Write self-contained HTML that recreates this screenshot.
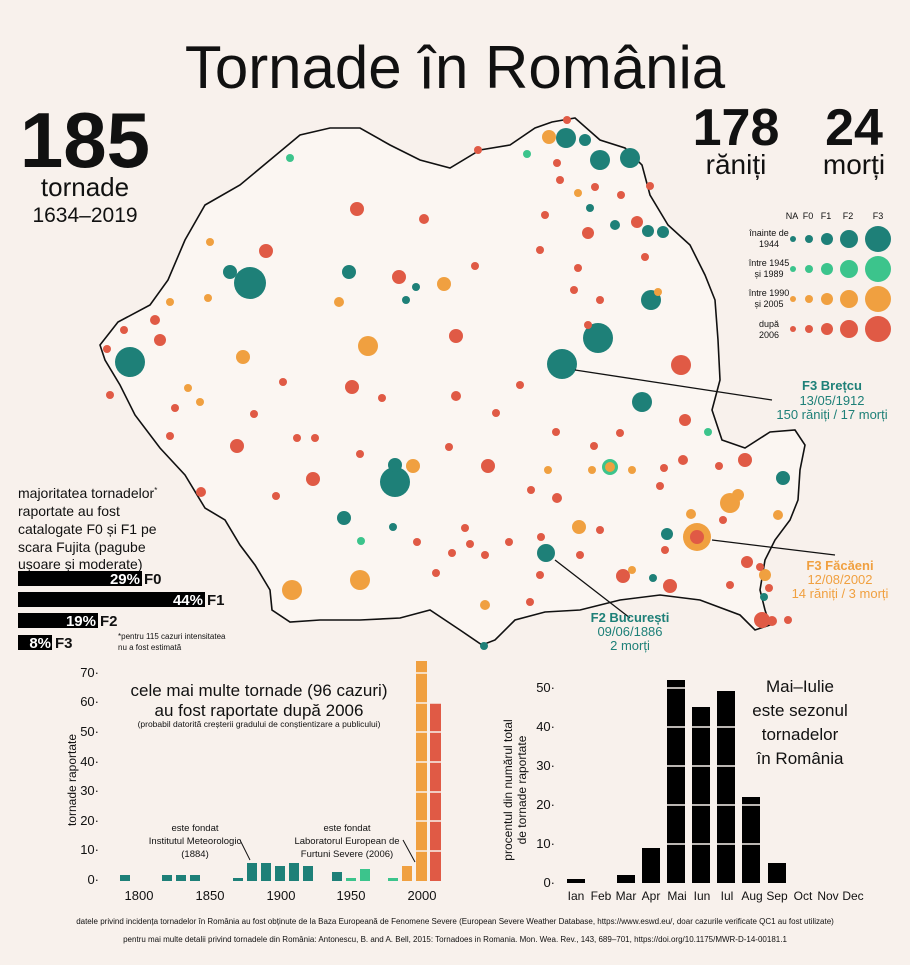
<!DOCTYPE html>
<html><head><meta charset="utf-8"><style>
html,body{margin:0;padding:0;background:#f8f1ec;}
body{width:910px;height:960px;overflow:hidden;font-family:"Liberation Sans",sans-serif;}
svg text{font-family:"Liberation Sans",sans-serif;}
</style></head><body>
<svg width="910" height="960" viewBox="0 0 910 960" xmlns="http://www.w3.org/2000/svg">
<rect width="910" height="960" fill="#f8f1ec"/>
<text x="455" y="88" font-size="60" text-anchor="middle" fill="#111">Tornade în România</text>
<text x="85" y="167" font-size="78" font-weight="bold" text-anchor="middle" fill="#111">185</text>
<text x="85" y="196" font-size="26" text-anchor="middle" fill="#111">tornade</text>
<text x="85" y="222" font-size="21" text-anchor="middle" fill="#111">1634–2019</text>
<text x="736" y="145" font-size="52" font-weight="bold" text-anchor="middle" fill="#111">178</text>
<text x="736" y="174" font-size="28" text-anchor="middle" fill="#111">răniți</text>
<text x="854" y="145" font-size="52" font-weight="bold" text-anchor="middle" fill="#111">24</text>
<text x="854" y="174" font-size="28" text-anchor="middle" fill="#111">morți</text>

<path d="M100,345 L118,322 L150,305 L168,280 L185,240 L205,205 L240,185 L270,160 L300,135 L330,128 L360,128 L390,145 L420,160 L450,168 L480,150 L510,145 L535,128 L552,122 L575,118 L600,140 L625,148 L642,165 L650,195 L668,225 L690,245 L705,275 L715,300 L718,340 L720,380 L712,410 L722,440 L745,448 L770,432 L795,430 L805,445 L800,470 L798,500 L790,520 L775,540 L765,560 L760,590 L765,610 L770,625 L755,630 L740,615 L700,600 L660,595 L620,600 L580,610 L545,612 L515,620 L495,640 L482,645 L460,630 L430,610 L400,618 L360,620 L320,620 L290,622 L272,610 L270,590 L255,565 L240,545 L225,520 L205,508 L185,475 L160,448 L135,415 L120,385 L105,360 Z" fill="#fbf6f2" stroke="#111" stroke-width="1.6"/>

<g>
<g fill="#1e8078">
<circle cx="250" cy="283" r="16"/><circle cx="130" cy="362" r="15"/><circle cx="562" cy="364" r="15"/><circle cx="598" cy="338" r="15"/><circle cx="395" cy="482" r="15"/><circle cx="395" cy="465" r="7"/><circle cx="651" cy="300" r="10"/><circle cx="642" cy="402" r="10"/><circle cx="566" cy="138" r="10"/><circle cx="600" cy="160" r="10"/><circle cx="630" cy="158" r="10"/><circle cx="546" cy="553" r="9"/><circle cx="230" cy="272" r="7"/><circle cx="349" cy="272" r="7"/><circle cx="344" cy="518" r="7"/><circle cx="783" cy="478" r="7"/><circle cx="667" cy="534" r="6"/><circle cx="585" cy="140" r="6"/><circle cx="663" cy="232" r="6"/><circle cx="648" cy="231" r="6"/><circle cx="615" cy="225" r="5"/><circle cx="590" cy="208" r="4"/><circle cx="406" cy="300" r="4"/><circle cx="416" cy="287" r="4"/><circle cx="393" cy="527" r="4"/><circle cx="653" cy="578" r="4"/><circle cx="764" cy="597" r="4"/><circle cx="484" cy="646" r="4"/>
</g>
<g fill="#3cc48c"><circle cx="290" cy="158" r="4"/><circle cx="527" cy="154" r="4"/><circle cx="708" cy="432" r="4"/><circle cx="610" cy="467" r="8"/><circle cx="361" cy="541" r="4"/></g>
<g fill="#f0a040">
<circle cx="368" cy="346" r="10"/><circle cx="360" cy="580" r="10"/><circle cx="292" cy="590" r="10"/><circle cx="730" cy="503" r="10"/><circle cx="738" cy="495" r="6"/><circle cx="697" cy="537" r="14"/><circle cx="413" cy="466" r="7"/><circle cx="579" cy="527" r="7"/><circle cx="444" cy="284" r="7"/><circle cx="243" cy="357" r="7"/><circle cx="549" cy="137" r="7"/><circle cx="610" cy="467" r="5"/><circle cx="485" cy="605" r="5"/><circle cx="339" cy="302" r="5"/><circle cx="210" cy="242" r="4"/><circle cx="170" cy="302" r="4"/><circle cx="208" cy="298" r="4"/><circle cx="188" cy="388" r="4"/><circle cx="200" cy="402" r="4"/><circle cx="578" cy="193" r="4"/><circle cx="658" cy="292" r="4"/><circle cx="592" cy="470" r="4"/><circle cx="632" cy="470" r="4"/><circle cx="691" cy="514" r="5"/><circle cx="765" cy="575" r="6"/><circle cx="778" cy="515" r="5"/><circle cx="548" cy="470" r="4"/><circle cx="632" cy="570" r="4"/></g>
<g fill="#e05a45">
<circle cx="697" cy="537" r="7"/><circle cx="357" cy="209" r="7"/><circle cx="266" cy="251" r="7"/><circle cx="424" cy="219" r="5"/><circle cx="399" cy="277" r="7"/><circle cx="352" cy="387" r="7"/><circle cx="456" cy="336" r="7"/><circle cx="237" cy="446" r="7"/><circle cx="313" cy="479" r="7"/><circle cx="201" cy="492" r="5"/><circle cx="488" cy="466" r="7"/><circle cx="681" cy="365" r="10"/><circle cx="637" cy="222" r="6"/><circle cx="588" cy="233" r="6"/><circle cx="685" cy="420" r="6"/><circle cx="745" cy="460" r="7"/><circle cx="670" cy="586" r="7"/><circle cx="623" cy="576" r="7"/><circle cx="762" cy="620" r="8"/><circle cx="683" cy="460" r="5"/><circle cx="557" cy="498" r="5"/><circle cx="530" cy="602" r="4"/><circle cx="456" cy="396" r="5"/><circle cx="315" cy="438" r="4"/><circle cx="297" cy="438" r="4"/><circle cx="170" cy="436" r="4"/><circle cx="175" cy="408" r="4"/><circle cx="155" cy="320" r="5"/><circle cx="160" cy="340" r="6"/><circle cx="124" cy="330" r="4"/><circle cx="107" cy="349" r="4"/><circle cx="110" cy="395" r="4"/><circle cx="600" cy="300" r="4"/><circle cx="574" cy="290" r="4"/><circle cx="578" cy="268" r="4"/><circle cx="621" cy="195" r="4"/><circle cx="650" cy="186" r="4"/><circle cx="645" cy="257" r="4"/><circle cx="520" cy="385" r="4"/><circle cx="475" cy="266" r="4"/><circle cx="449" cy="447" r="4"/><circle cx="382" cy="398" r="4"/><circle cx="283" cy="382" r="4"/><circle cx="254" cy="414" r="4"/><circle cx="276" cy="496" r="4"/><circle cx="360" cy="454" r="4"/><circle cx="531" cy="490" r="4"/><circle cx="556" cy="432" r="4"/><circle cx="594" cy="446" r="4"/><circle cx="620" cy="433" r="4"/><circle cx="540" cy="250" r="4"/><circle cx="567" cy="120" r="4"/><circle cx="478" cy="150" r="4"/><circle cx="541" cy="537" r="4"/><circle cx="580" cy="555" r="4"/><circle cx="600" cy="530" r="4"/><circle cx="719" cy="466" r="4"/><circle cx="747" cy="562" r="6"/><circle cx="788" cy="620" r="4"/><circle cx="772" cy="621" r="5"/><circle cx="540" cy="575" r="4"/><circle cx="417" cy="542" r="4"/><circle cx="436" cy="573" r="4"/><circle cx="452" cy="553" r="4"/><circle cx="485" cy="555" r="4"/><circle cx="470" cy="544" r="4"/><circle cx="509" cy="542" r="4"/><circle cx="465" cy="528" r="4"/><circle cx="664" cy="468" r="4"/><circle cx="723" cy="520" r="4"/><circle cx="730" cy="585" r="4"/><circle cx="588" cy="325" r="4"/><circle cx="496" cy="413" r="4"/><circle cx="660" cy="486" r="4"/><circle cx="665" cy="550" r="4"/><circle cx="560" cy="180" r="4"/><circle cx="557" cy="163" r="4"/><circle cx="545" cy="215" r="4"/><circle cx="595" cy="187" r="4"/><circle cx="760" cy="567" r="4"/><circle cx="769" cy="588" r="4"/></g>
</g>

<g stroke="#111" stroke-width="1.3" fill="none">
<line x1="575" y1="370" x2="772" y2="400"/>
<line x1="712" y1="540" x2="835" y2="555"/>
<line x1="555" y1="560" x2="630" y2="618"/>
</g>
<g font-size="13" text-anchor="middle">
<text x="832" y="390" fill="#1e8078" font-weight="bold">F3 Brețcu</text>
<text x="832" y="405" fill="#1e8078">13/05/1912</text>
<text x="832" y="419" fill="#1e8078">150 răniți / 17 morți</text>
<text x="840" y="570" fill="#f0a040" font-weight="bold">F3 Făcăeni</text>
<text x="840" y="584" fill="#f0a040">12/08/2002</text>
<text x="840" y="598" fill="#f0a040">14 răniți / 3 morți</text>
<text x="630" y="622" fill="#1e8078" font-weight="bold">F2 București</text>
<text x="630" y="636" fill="#1e8078">09/06/1886</text>
<text x="630" y="650" fill="#1e8078">2 morți</text>
</g>

<g font-size="9" fill="#111" text-anchor="middle">
<text x="792" y="219">NA</text><text x="808" y="219">F0</text><text x="826" y="219">F1</text><text x="848" y="219">F2</text><text x="878" y="219">F3</text>
<text x="769" y="236">înainte de</text><text x="769" y="247">1944</text>
<text x="769" y="266">între 1945</text><text x="769" y="277">și 1989</text>
<text x="769" y="296">între 1990</text><text x="769" y="307">și 2005</text>
<text x="769" y="327">după</text><text x="769" y="338">2006</text>
</g>
<g fill="#1e8078"><circle cx="793" cy="239" r="3"/><circle cx="809" cy="239" r="4"/><circle cx="827" cy="239" r="6"/><circle cx="849" cy="239" r="9"/><circle cx="878" cy="239" r="13"/></g>
<g fill="#3cc48c"><circle cx="793" cy="269" r="3"/><circle cx="809" cy="269" r="4"/><circle cx="827" cy="269" r="6"/><circle cx="849" cy="269" r="9"/><circle cx="878" cy="269" r="13"/></g>
<g fill="#f0a040"><circle cx="793" cy="299" r="3"/><circle cx="809" cy="299" r="4"/><circle cx="827" cy="299" r="6"/><circle cx="849" cy="299" r="9"/><circle cx="878" cy="299" r="13"/></g>
<g fill="#e05a45"><circle cx="793" cy="329" r="3"/><circle cx="809" cy="329" r="4"/><circle cx="827" cy="329" r="6"/><circle cx="849" cy="329" r="9"/><circle cx="878" cy="329" r="13"/></g>

<g font-size="14" fill="#111">
<text x="18" y="498">majoritatea tornadelor<tspan font-size="8" dy="-5">*</tspan></text>
<text x="18" y="516">raportate au fost</text>
<text x="18" y="534">catalogate F0 și F1 pe</text>
<text x="18" y="552">scara Fujita (pagube</text>
<text x="18" y="569">ușoare și moderate)</text>
</g>
<rect x="18" y="571" width="124" height="15" fill="#000"/>
<rect x="18" y="592" width="187" height="15" fill="#000"/>
<rect x="18" y="613" width="80" height="15" fill="#000"/>
<rect x="18" y="635" width="34" height="15" fill="#000"/>
<g font-size="15" font-weight="bold">
<text x="140" y="584" fill="#fff" text-anchor="end">29%</text><text x="144" y="584" fill="#111">F0</text>
<text x="203" y="605" fill="#fff" text-anchor="end">44%</text><text x="207" y="605" fill="#111">F1</text>
<text x="96" y="626" fill="#fff" text-anchor="end">19%</text><text x="100" y="626" fill="#111">F2</text>
<text x="51" y="648" fill="#fff" text-anchor="end">8%</text><text x="55" y="648" fill="#111">F3</text>
</g>
<text x="118" y="639" font-size="8" fill="#111">*pentru 115 cazuri intensitatea</text>
<text x="118" y="650" font-size="8" fill="#111">nu a fost estimată</text>

<!-- left chart -->
<g font-size="13" fill="#111">
<text x="99" y="677" text-anchor="end">70·</text><text x="99" y="706" text-anchor="end">60·</text><text x="99" y="736" text-anchor="end">50·</text><text x="99" y="766" text-anchor="end">40·</text><text x="99" y="795" text-anchor="end">30·</text><text x="99" y="825" text-anchor="end">20·</text><text x="99" y="854" text-anchor="end">10·</text><text x="99" y="884" text-anchor="end">0·</text>
<text x="139" y="900" text-anchor="middle">1800</text><text x="210" y="900" text-anchor="middle">1850</text><text x="281" y="900" text-anchor="middle">1900</text><text x="351" y="900" text-anchor="middle">1950</text><text x="422" y="900" text-anchor="middle">2000</text>
</g>
<text transform="translate(76,780) rotate(-90)" font-size="12" text-anchor="middle" fill="#111">tornade raportate</text>
<g fill="#1e8078">
<rect x="120" y="875" width="10" height="6"/><rect x="162" y="875" width="10" height="6"/><rect x="176" y="875" width="10" height="6"/><rect x="190" y="875" width="10" height="6"/><rect x="233" y="878" width="10" height="3"/><rect x="247" y="863" width="10" height="18"/><rect x="261" y="863" width="10" height="18"/><rect x="275" y="866" width="10" height="15"/><rect x="289" y="863" width="10" height="18"/><rect x="303" y="866" width="10" height="15"/><rect x="332" y="872" width="10" height="9"/></g>
<g fill="#3cc48c"><rect x="346" y="878" width="10" height="3"/><rect x="360" y="869" width="10" height="12"/><rect x="388" y="878" width="10" height="3"/></g>
<g fill="#f0a040"><rect x="402" y="866" width="10" height="15"/><rect x="416" y="661" width="11" height="220"/></g>
<rect x="430" y="703" width="11" height="178" fill="#e05a45"/>
<g stroke="#f8f1ec" stroke-width="1.5"><line x1="415" y1="851" x2="442" y2="851"/><line x1="415" y1="821" x2="442" y2="821"/><line x1="415" y1="792" x2="442" y2="792"/><line x1="415" y1="762" x2="442" y2="762"/><line x1="415" y1="732" x2="442" y2="732"/><line x1="415" y1="703" x2="442" y2="703"/><line x1="415" y1="673" x2="442" y2="673"/></g>
<text x="259" y="696" font-size="17" text-anchor="middle" fill="#111">cele mai multe tornade (96 cazuri)</text>
<text x="259" y="716" font-size="17" text-anchor="middle" fill="#111">au fost raportate după 2006</text>
<text x="259" y="727" font-size="8.5" text-anchor="middle" fill="#111">(probabil datorită creșterii gradului de conștientizare a publicului)</text>
<g font-size="9.5" fill="#111" text-anchor="middle">
<text x="195" y="831">este fondat</text><text x="195" y="844">Institutul Meteorologic</text><text x="195" y="857">(1884)</text>
<text x="347" y="831">este fondat</text><text x="347" y="844">Laboratorul European de</text><text x="347" y="857">Furtuni Severe (2006)</text>
</g>
<line x1="240" y1="840" x2="250" y2="860" stroke="#111"/><line x1="403" y1="840" x2="415" y2="862" stroke="#111"/>

<!-- right chart -->
<g font-size="13" fill="#111">
<text x="555" y="692" text-anchor="end">50·</text><text x="555" y="731" text-anchor="end">40·</text><text x="555" y="770" text-anchor="end">30·</text><text x="555" y="809" text-anchor="end">20·</text><text x="555" y="848" text-anchor="end">10·</text><text x="555" y="887" text-anchor="end">0·</text>
</g>
<g font-size="12" fill="#111" text-anchor="middle">
<text x="576" y="900">Ian</text><text x="601" y="900">Feb</text><text x="626" y="900">Mar</text><text x="651" y="900">Apr</text><text x="677" y="900">Mai</text><text x="702" y="900">Iun</text><text x="727" y="900">Iul</text><text x="752" y="900">Aug</text><text x="777" y="900">Sep</text><text x="803" y="900">Oct</text><text x="828" y="900">Nov</text><text x="853" y="900">Dec</text>
</g>
<text transform="translate(512,790) rotate(-90)" font-size="12" text-anchor="middle" fill="#111">procentul din numărul total</text>
<text transform="translate(526,790) rotate(-90)" font-size="12" text-anchor="middle" fill="#111">de tornade raportate</text>
<g fill="#000">
<rect x="567" y="879" width="18" height="4"/><rect x="617" y="875" width="18" height="8"/><rect x="642" y="848" width="18" height="35"/><rect x="667" y="680" width="18" height="203"/><rect x="692" y="707" width="18" height="176"/><rect x="717" y="691" width="18" height="192"/><rect x="742" y="797" width="18" height="86"/><rect x="768" y="863" width="18" height="20"/></g>
<g stroke="#f8f1ec" stroke-width="1.5"><line x1="665" y1="844" x2="762" y2="844"/><line x1="665" y1="805" x2="762" y2="805"/><line x1="665" y1="766" x2="737" y2="766"/><line x1="665" y1="727" x2="737" y2="727"/><line x1="665" y1="688" x2="687" y2="688"/></g>
<g font-size="17" fill="#111" text-anchor="middle"><text x="800" y="692">Mai–Iulie</text><text x="800" y="716">este sezonul</text><text x="800" y="740">tornadelor</text><text x="800" y="764">în România</text></g>

<g font-size="8" fill="#111" text-anchor="middle">
<text x="455" y="924">datele privind incidența tornadelor în România au fost obținute de la Baza Europeană de Fenomene Severe (European Severe Weather Database, https://www.eswd.eu/, doar cazurile verificate QC1 au fost utilizate)</text>
<text x="455" y="942">pentru mai multe detalii privind tornadele din România: Antonescu, B. and A. Bell, 2015: Tornadoes in Romania. Mon. Wea. Rev., 143, 689–701, https://doi.org/10.1175/MWR-D-14-00181.1</text>
</g>
</svg>
</body></html>
